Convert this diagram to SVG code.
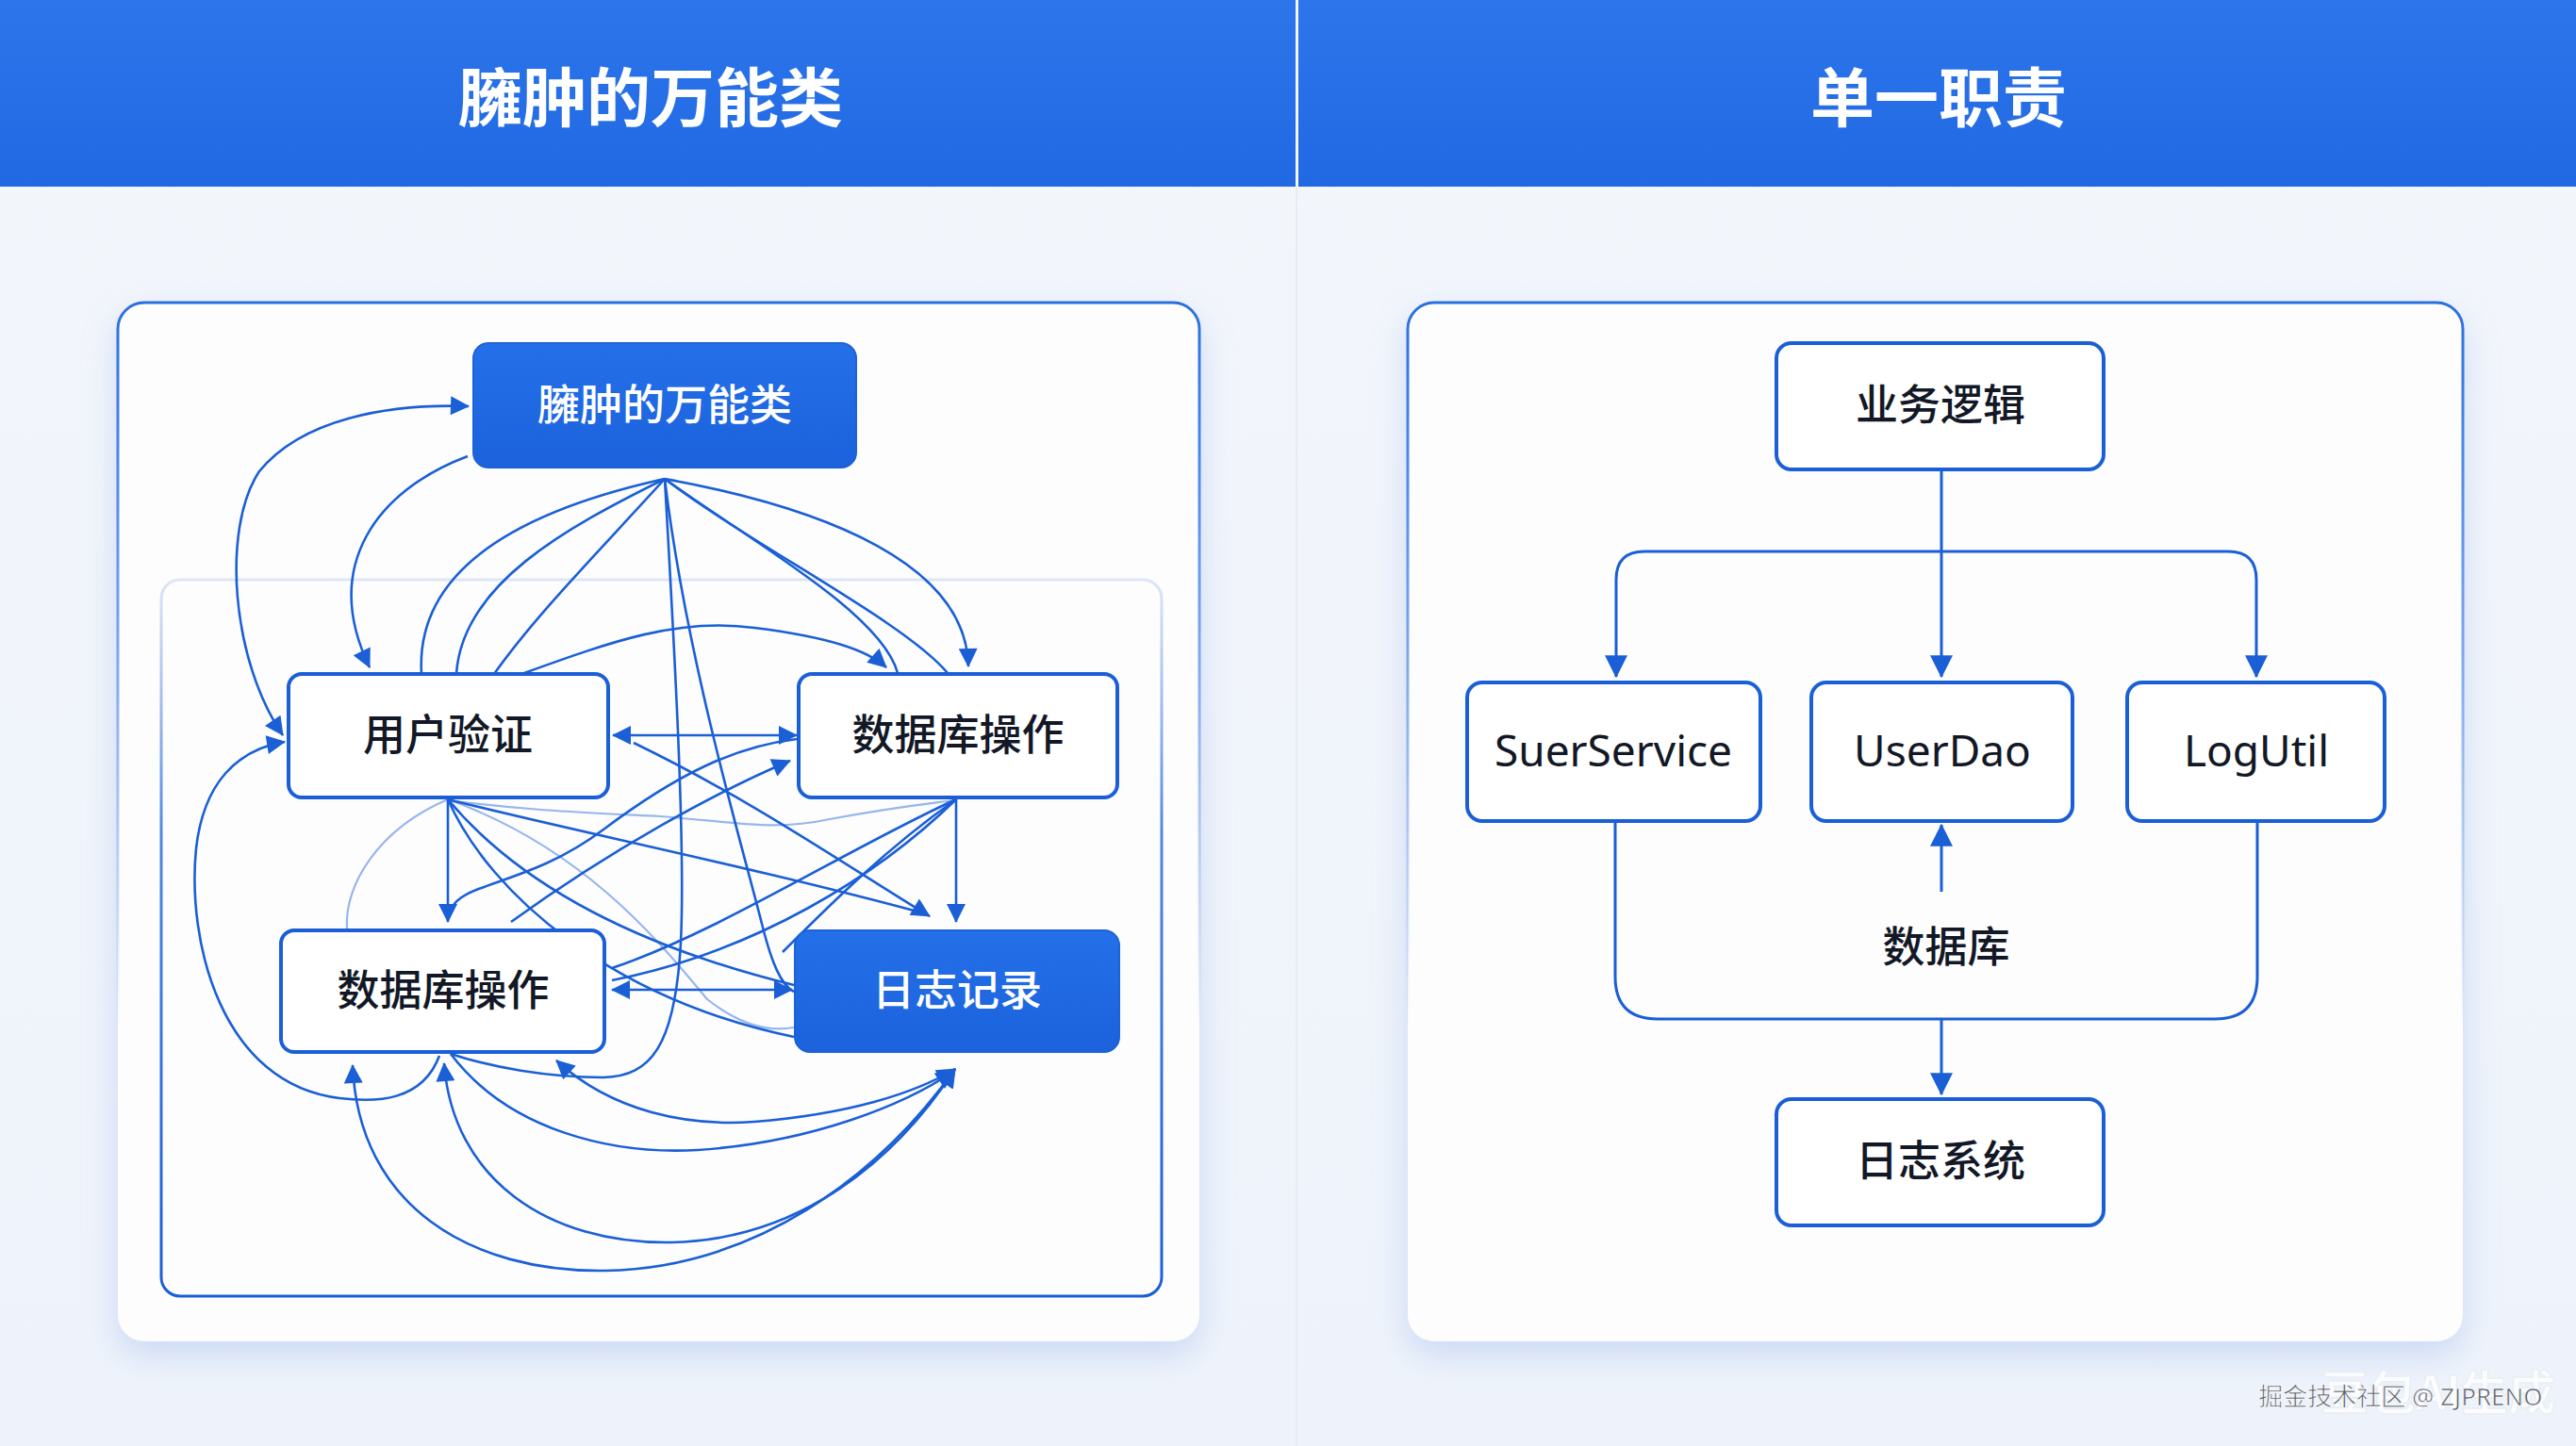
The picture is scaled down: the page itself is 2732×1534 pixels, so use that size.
<svg xmlns="http://www.w3.org/2000/svg" width="2732" height="1534" viewBox="0 0 2732 1534">
<defs>
<style>
.t{font-family:"Noto Sans","Noto Sans CJK SC",sans-serif;text-anchor:middle}
.title{font-size:68px;font-weight:700;fill:#ffffff}
.lbl{font-size:45px;font-weight:500;fill:#121826}
.lblw{font-size:45px;font-weight:500;fill:#ffffff}
.en{font-size:46px;font-weight:400;fill:#121826}
.box{fill:#ffffff;stroke:#1a5fd6;stroke-width:4}
.boxb{fill:url(#nodeG);stroke:#1c62d8;stroke-width:2}
.c{fill:none;stroke:#1a5fd6;stroke-width:2.6}
.cf{fill:none;stroke:#1a5fd6;stroke-width:2.2;opacity:0.45}
.ca{fill:none;stroke:#1a5fd6;stroke-width:2.6;marker-end:url(#ah)}
.cb{fill:none;stroke:#1a5fd6;stroke-width:2.6;marker-end:url(#ah);marker-start:url(#ah)}
.r{fill:none;stroke:#1a5fd6;stroke-width:3}
.ra{fill:none;stroke:#1a5fd6;stroke-width:3;marker-end:url(#ah2)}
</style>
<marker id="ah" viewBox="0 0 10 10" refX="9.5" refY="5" markerWidth="22" markerHeight="20" markerUnits="userSpaceOnUse" orient="auto-start-reverse">
<path d="M0,0 L10,5 L0,10 z" fill="#1a5fd6"/>
</marker>
<marker id="ah2" viewBox="0 0 10 10" refX="9.5" refY="5" markerWidth="24" markerHeight="24" markerUnits="userSpaceOnUse" orient="auto-start-reverse">
<path d="M0,0 L10,5 L0,10 z" fill="#1a5fd6"/>
</marker>
<linearGradient id="hdr" x1="0" y1="0" x2="0" y2="1">
<stop offset="0" stop-color="#2c75ea"/>
<stop offset="1" stop-color="#2169e3"/>
</linearGradient>
<linearGradient id="bg" x1="0" y1="0" x2="0" y2="1">
<stop offset="0" stop-color="#f3f6fb"/>
<stop offset="1" stop-color="#eef3fb"/>
</linearGradient>
<linearGradient id="nodeG" x1="0" y1="0" x2="0" y2="1">
<stop offset="0" stop-color="#2470e8"/>
<stop offset="1" stop-color="#1b62dc"/>
</linearGradient>
<linearGradient id="cardStroke" x1="0" y1="0" x2="0" y2="1">
<stop offset="0" stop-color="#2a6fe0" stop-opacity="1"/>
<stop offset="0.35" stop-color="#2a6fe0" stop-opacity="0.55"/>
<stop offset="0.7" stop-color="#2a6fe0" stop-opacity="0"/>
</linearGradient>
<linearGradient id="innerStroke" x1="0" y1="0" x2="0" y2="1">
<stop offset="0" stop-color="#c7d7f3" stop-opacity="0.6"/>
<stop offset="0.35" stop-color="#1a5fd6" stop-opacity="0.75"/>
<stop offset="1" stop-color="#1a5fd6" stop-opacity="1"/>
</linearGradient>
<filter id="sh" x="-10%" y="-10%" width="120%" height="125%">
<feDropShadow dx="0" dy="14" stdDeviation="18" flood-color="#9db8ea" flood-opacity="0.45"/>
</filter>
</defs>

<!-- background -->
<rect x="0" y="0" width="2732" height="1534" fill="url(#bg)"/>
<rect x="0" y="0" width="1374" height="198" fill="url(#hdr)"/>
<rect x="1377" y="0" width="1355" height="198" fill="url(#hdr)"/>
<rect x="1374" y="198" width="2" height="1336" fill="#e6ecf6"/>
<text class="t title" x="690" y="129">臃肿的万能类</text>
<text class="t title" x="2056" y="129">单一职责</text>

<!-- cards -->
<g id="left-card">
<rect x="125" y="321" width="1147" height="1102" rx="28" fill="#fdfdfe" filter="url(#sh)"/>
<rect x="125" y="321" width="1147" height="1102" rx="28" fill="none" stroke="url(#cardStroke)" stroke-width="3"/>
<rect x="171" y="615" width="1061" height="760" rx="20" fill="none" stroke="url(#innerStroke)" stroke-width="3"/>
</g>
<g id="right-card">
<rect x="1493" y="321" width="1119" height="1102" rx="28" fill="#fdfdfe" filter="url(#sh)"/>
<rect x="1493" y="321" width="1119" height="1102" rx="28" fill="none" stroke="url(#cardStroke)" stroke-width="3"/>
</g>

<!-- left connectors -->
<g id="connectors-left">
<path class="cb" d="M300,780 C245,700 235,560 275,500 C320,445 410,428 497,431"/>
<path class="ca" d="M496,484 C400,520 340,600 392,708"/>
<path class="ca" d="M466,1120 C448,1168 400,1170 360,1165 C235,1150 198,1000 208,900 C216,830 252,795 302,787"/>
<path class="c" d="M705,508 C560,540 440,600 447,715"/>
<path class="c" d="M705,508 C600,560 490,620 484,715"/>
<path class="c" d="M705,508 C640,580 570,650 524,715"/>
<path class="c" d="M705,508 C790,570 935,650 952,714"/>
<path class="c" d="M705,508 C800,580 960,660 1005,714"/>
<path class="ca" d="M705,508 C880,540 1025,600 1027,707"/>
<path class="c" d="M705,508 C716,700 727,900 722,1000 C716,1110 690,1142 640,1143 C580,1143 520,1132 478,1118"/>
<path class="c" d="M705,508 C728,700 788,900 808,980 C818,1020 828,1045 842,1052"/>
<path class="ca" d="M556,714 C650,680 720,655 800,666 C880,676 920,690 940,708"/>
<path class="cb" d="M650,780 L845,780"/>
<path class="ca" d="M672,788 C800,850 900,920 986,972"/>
<path class="c" d="M845,784 C780,792 720,820 640,880 C560,940 490,935 478,965"/>
<path class="ca" d="M542,978 C650,900 760,840 838,807"/>
<path class="ca" d="M1014,848 L1014,978"/>
<path class="ca" d="M475,848 L475,978"/>
<path class="cf" d="M475,849 C560,860 620,862 700,866 C780,872 820,882 880,869 C950,856 990,852 1012,849"/>
<path class="c" d="M1014,848 C900,900 760,990 649,1027"/>
<path class="c" d="M1014,848 C930,930 800,1010 649,1040"/>
<path class="c" d="M1014,848 C940,900 880,960 830,1010"/>
<path class="c" d="M475,848 C600,880 800,920 984,970"/>
<path class="c" d="M475,848 C560,950 700,1010 842,1045"/>
<path class="cf" d="M475,848 C620,900 700,1000 750,1060 C790,1092 820,1094 842,1090"/>
<path class="c" d="M475,848 C520,950 650,1060 842,1100"/>
<path class="cf" d="M475,848 C400,880 365,940 368,985"/>
<path class="cb" d="M649,1050 L840,1050"/>
<path class="ca" d="M478,1118 C540,1200 650,1225 740,1220 C860,1212 960,1172 1012,1136"/>
<path class="cb" d="M590,1125 C650,1180 730,1195 800,1190 C900,1182 970,1160 1013,1134"/>
<path class="cb" d="M471,1128 C480,1250 580,1320 712,1318 C850,1315 950,1230 1013,1134"/>
<path class="cb" d="M374,1130 C380,1280 500,1350 642,1348 C800,1345 930,1250 1013,1134"/>
</g>

<!-- left nodes -->
<g id="node-bloated">
<rect class="boxb" x="502" y="364" width="406" height="132" rx="16"/>
<text class="t lblw" x="705" y="446">臃肿的万能类</text>
</g>
<g id="node-auth">
<rect class="box" x="306" y="715" width="339" height="131" rx="14"/>
<text class="t lbl" x="475" y="796">用户验证</text>
</g>
<g id="node-db-right">
<rect class="box" x="847" y="715" width="338" height="131" rx="14"/>
<text class="t lbl" x="1016" y="796">数据库操作</text>
</g>
<g id="node-db-left">
<rect class="box" x="298" y="987" width="343" height="129" rx="14"/>
<text class="t lbl" x="470" y="1067">数据库操作</text>
</g>
<g id="node-log">
<rect class="boxb" x="843" y="987" width="344" height="129" rx="16"/>
<text class="t lblw" x="1015" y="1067">日志记录</text>
</g>

<!-- right connectors -->
<g id="connectors-right">
<path class="ra" d="M2059,498 L2059,718"/>
<path class="ra" d="M2059,585 L1744,585 Q1714,585 1714,615 L1714,718"/>
<path class="ra" d="M2059,585 L2363,585 Q2393,585 2393,615 L2393,718"/>
<path class="r" d="M1713,871 L1713,1036 Q1713,1081 1758,1081 L2349,1081 Q2394,1081 2394,1036 L2394,871"/>
<path class="ra" d="M2059,946 L2059,875"/>
<path class="ra" d="M2059,1081 L2059,1161"/>
</g>

<!-- right nodes -->
<g id="node-business">
<rect class="box" x="1884" y="364" width="347" height="134" rx="16"/>
<text class="t lbl" x="2058" y="446">业务逻辑</text>
</g>
<g id="node-service">
<rect class="box" x="1556" y="724" width="311" height="147" rx="16"/>
<text class="t en" x="1711" y="813">SuerService</text>
</g>
<g id="node-dao">
<rect class="box" x="1921" y="724" width="277" height="147" rx="16"/>
<text class="t en" x="2060" y="813">UserDao</text>
</g>
<g id="node-logutil">
<rect class="box" x="2256" y="724" width="273" height="147" rx="16"/>
<text class="t en" x="2393" y="813">LogUtil</text>
</g>
<g id="label-db">
<text class="t lbl" x="2064" y="1021">数据库</text>
</g>
<g id="node-logsys">
<rect class="box" x="1884" y="1166" width="347" height="134" rx="16"/>
<text class="t lbl" x="2058" y="1248">日志系统</text>
</g>

<!-- watermarks -->
<text x="2586" y="1496" font-family="Noto Sans CJK SC, sans-serif" font-size="50" font-weight="700" text-anchor="middle" fill="#ffffff" stroke="#e9edf3" stroke-width="1.5" opacity="0.8">豆包AI生成</text>
<text x="2546" y="1491" font-family="Noto Sans, Noto Sans CJK SC, sans-serif" font-size="26" text-anchor="middle" fill="#5b5f66" stroke="#ffffff" stroke-width="0.6">掘金技术社区 @ ZJPRENO</text>
</svg>
